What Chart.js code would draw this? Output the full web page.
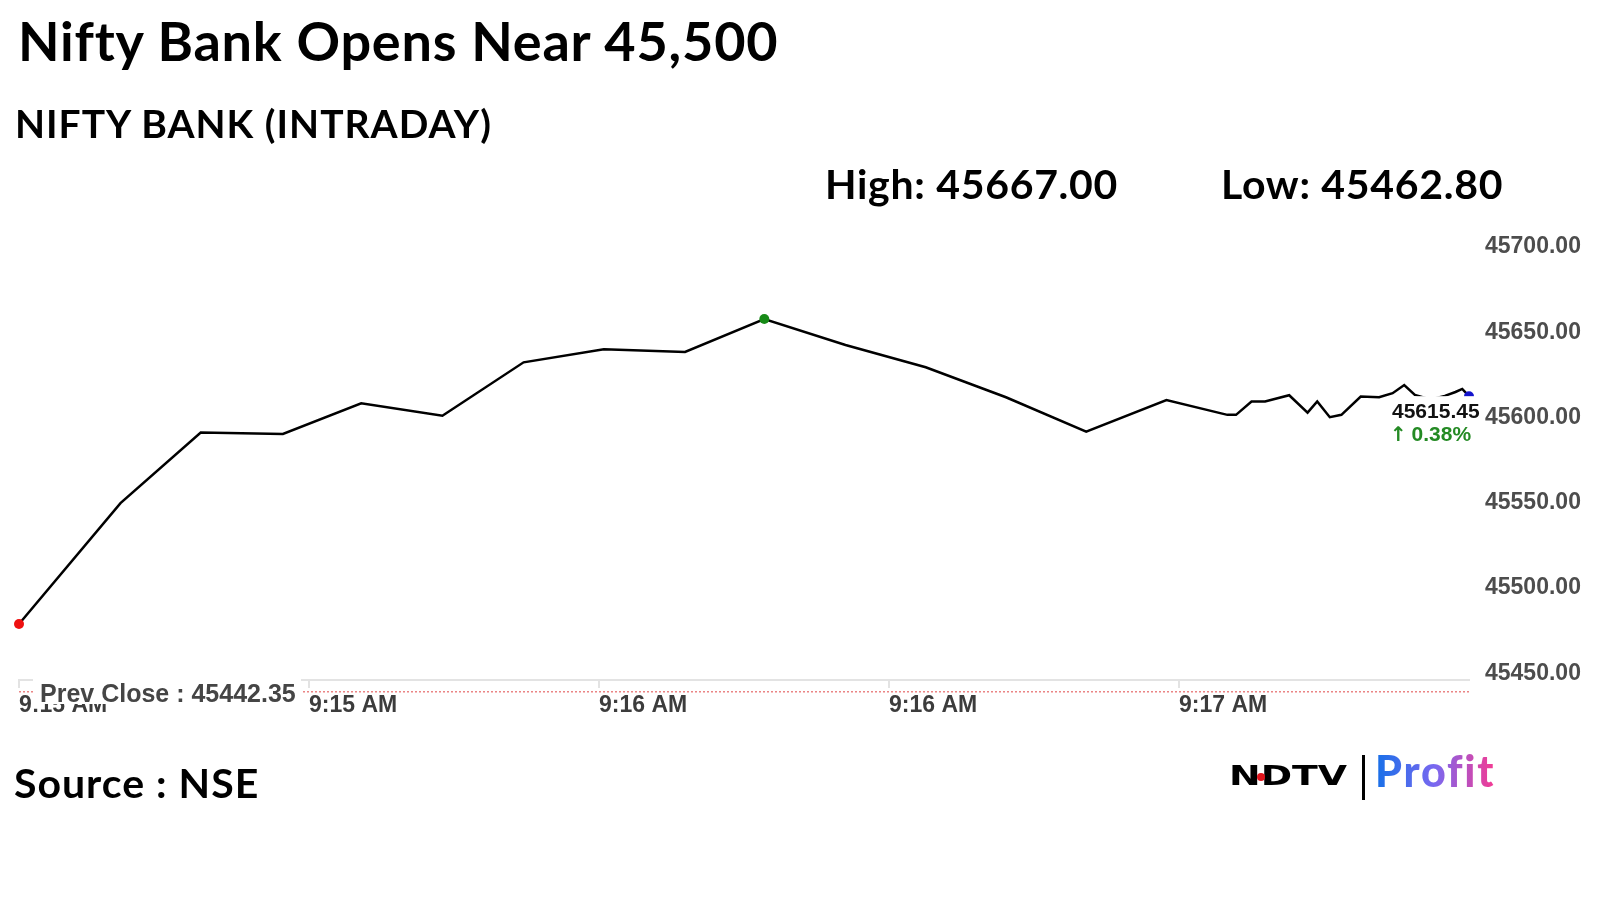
<!DOCTYPE html>
<html>
<head>
<meta charset="utf-8">
<script src="https://cdn.jsdelivr.net/npm/chart.js@4.4.1/dist/chart.umd.min.js"></script>
<style>
  html, body { margin: 0; padding: 0; background: #fff; }
  body { width: 1600px; height: 900px; position: relative; overflow: hidden; font-family: Lato, "Open Sans", sans-serif; }
  #chartBox { position: absolute; left: 0; top: 0; }
  .txt { position: absolute; line-height: 1; white-space: nowrap; color: #000; font-weight: 700; }
  #title { left: 18px; top: 14px; font-size: 54px; letter-spacing: 0.8px; }
  #subtitle { left: 15px; top: 104px; font-size: 39px; letter-spacing: 1px; }
  #high { left: 825px; top: 163px; font-size: 41px; letter-spacing: 0.7px; }
  #low { left: 1221px; top: 163px; font-size: 41px; letter-spacing: 0.7px; }
  #source { left: 14px; top: 762px; font-size: 41px; letter-spacing: 1px; }
  #ndtv { position: absolute; left: 1229px; top: 762px; font-family: "DejaVu Sans", sans-serif; font-weight: 700; font-size: 27px; line-height: 1; transform: scaleX(1.4); transform-origin: left top; color: #000; }
  #reddot { position: absolute; left: 1257px; top: 773px; width: 8px; height: 8px; border-radius: 50%; background: #e0141c; }
  #bar { position: absolute; left: 1362px; top: 755px; width: 3px; height: 45px; background: #000; }
  #profit { position: absolute; left: 1375px; top: 749px; font-size: 43px; line-height: 1; font-weight: 900; letter-spacing: 1.8px;
    background: linear-gradient(90deg, #1670e8 0%, #7a68f0 50%, #f53a92 100%);
    -webkit-background-clip: text; background-clip: text; color: transparent; }
</style>
</head>
<body>
<canvas id="chartBox" width="1600" height="900"></canvas>
<div class="txt" id="title">Nifty Bank Opens Near 45,500</div>
<div class="txt" id="subtitle">NIFTY BANK (INTRADAY)</div>
<div class="txt" id="high"></div>
<div class="txt" id="low"></div>
<div class="txt" id="source">Source : NSE</div>
<span id="ndtv">NDTV</span><span id="reddot"></span><span id="bar"></span><span id="profit">Profit</span>
<script>
// seconds after 9:15:00 for every tick of the line
const secs = [0, 10.5, 18.8, 27.3, 35.4, 43.8, 52.2, 60.5, 68.9, 77.1, 85.5, 93.8, 102.1, 110.4, 118.7,
    125.0, 125.9, 127.5, 128.9, 131.4, 133.3, 134.3, 135.6, 136.8, 138.8, 140.7, 142.1, 143.3, 144.4,
    146.0, 147.5, 148.6, 149.3, 150];
const prices = [45481.8, 45552.7, 45594.1, 45593.3, 45611.3, 45604.0, 45635.3, 45643.0, 45641.4, 45660.7,
    45645.5, 45632.4, 45614.8, 45594.7, 45613.2, 45604.5, 45604.5, 45612.3, 45612.3, 45616.0, 45605.8,
    45612.3, 45603.1, 45604.5, 45615.2, 45614.8, 45617.2, 45622.0, 45616.2, 45613.5, 45615.6, 45617.9,
    45619.7, 45615.45];
const yTicks = [45450, 45500, 45550, 45600, 45650, 45700];
const xTickSecs = [0, 30, 60, 90, 120];
const xTickLabels = ['9:15 AM', '9:15 AM', '9:16 AM', '9:16 AM', '9:17 AM'];
const prevClose = 45442.35;
const dayHigh = 45667.00;
const dayLow = 45462.80;

document.getElementById('high').textContent = 'High: ' + dayHigh.toFixed(2);
document.getElementById('low').textContent = 'Low: ' + dayLow.toFixed(2);

var last = prices.length - 1;
var peak = prices.indexOf(Math.max(...prices));
var radii = prices.map((p, i) => (i === 0 || i === peak || i === last) ? 5 : 0);
var dotColors = prices.map((p, i) => i === 0 ? '#ee1111' : (i === peak ? '#178a17' : '#1414cc'));

const axisFont = { family: '"Liberation Sans", Arial, sans-serif', size: 23, weight: 'bold' };

// prev close line, its label and the last value label
const extras = {
    id: 'extras',
    afterDraw(chart) {
        const ctx = chart.ctx;
        const area = chart.chartArea;
        const y = chart.scales.y.getPixelForValue(prevClose);
        ctx.save();

        ctx.strokeStyle = '#e04848';
        ctx.lineWidth = 1;
        ctx.setLineDash([2, 2]);
        ctx.beginPath();
        ctx.moveTo(area.left, y + 0.5);
        ctx.lineTo(area.right, y + 0.5);
        ctx.stroke();
        ctx.setLineDash([]);

        ctx.fillStyle = '#fff';
        ctx.fillRect(33, 672, 268, 32);
        ctx.fillStyle = '#454545';
        ctx.font = 'bold 25px "Liberation Sans", Arial, sans-serif';
        ctx.textBaseline = 'alphabetic';
        ctx.textAlign = 'left';
        ctx.fillText('Prev Close : ' + prevClose.toFixed(2), 40, 702);

        const pt = chart.getDatasetMeta(0).data[last];
        ctx.fillStyle = '#fff';
        ctx.fillRect(pt.x - 82, pt.y, 98, 50);
        ctx.font = 'bold 21px "Liberation Sans", Arial, sans-serif';
        ctx.fillStyle = '#111';
        ctx.fillText(prices[last].toFixed(2), pt.x - 77, pt.y + 22);
        const pct = (prices[last] - prevClose) / prevClose * 100;
        ctx.fillStyle = '#248a24';
        ctx.font = 'bold 20px "DejaVu Sans", sans-serif';
        ctx.fillText('\u2191', pt.x - 79, pt.y + 45);
        const aw = ctx.measureText('\u2191').width;
        ctx.font = 'bold 21px "Liberation Sans", Arial, sans-serif';
        ctx.fillText(' ' + pct.toFixed(2) + '%', pt.x - 80 + aw, pt.y + 45);
        ctx.restore();
    }
};

new Chart(document.getElementById('chartBox'), {
    type: 'line',
    data: {
        datasets: [{
            data: secs.map((s, i) => ({ x: s, y: prices[i] })),
            borderColor: '#000',
            borderWidth: 2.5,
            tension: 0,
            clip: false,
            pointRadius: radii,
            pointBackgroundColor: dotColors,
            pointBorderWidth: 0,
            pointHoverRadius: 0
        }]
    },
    options: {
        responsive: false,
        animation: false,
        devicePixelRatio: 1,
        layout: { padding: { left: 19, right: 17, top: 252, bottom: 180 } },
        plugins: { legend: { display: false }, tooltip: { enabled: false } },
        scales: {
            x: {
                type: 'linear',
                min: 0,
                max: 150,
                afterBuildTicks: s => { s.ticks = xTickSecs.map(v => ({ value: v })); },
                afterFit: s => { s.height = 40; },
                ticks: {
                    autoSkip: false,
                    maxRotation: 0,
                    align: 'start',
                    padding: 4,
                    color: '#3c3c3c',
                    font: axisFont,
                    callback: v => xTickLabels[xTickSecs.indexOf(v)]
                },
                grid: { drawOnChartArea: false, drawTicks: true, tickLength: 8, color: '#e3e3e3', lineWidth: 2 },
                border: { display: true, color: '#e3e3e3', width: 2 }
            },
            y: {
                position: 'right',
                min: 45449,
                max: 45700,
                afterBuildTicks: s => { s.ticks = yTicks.map(v => ({ value: v })); },
                afterFit: s => { s.width = 114; },
                ticks: {
                    padding: 16,
                    labelOffset: -5,
                    color: '#4d4d4d',
                    font: axisFont,
                    callback: v => v.toFixed(2)
                },
                grid: { display: false, drawTicks: false },
                border: { display: false }
            }
        }
    },
    plugins: [extras]
});
</script>
</body>
</html>
